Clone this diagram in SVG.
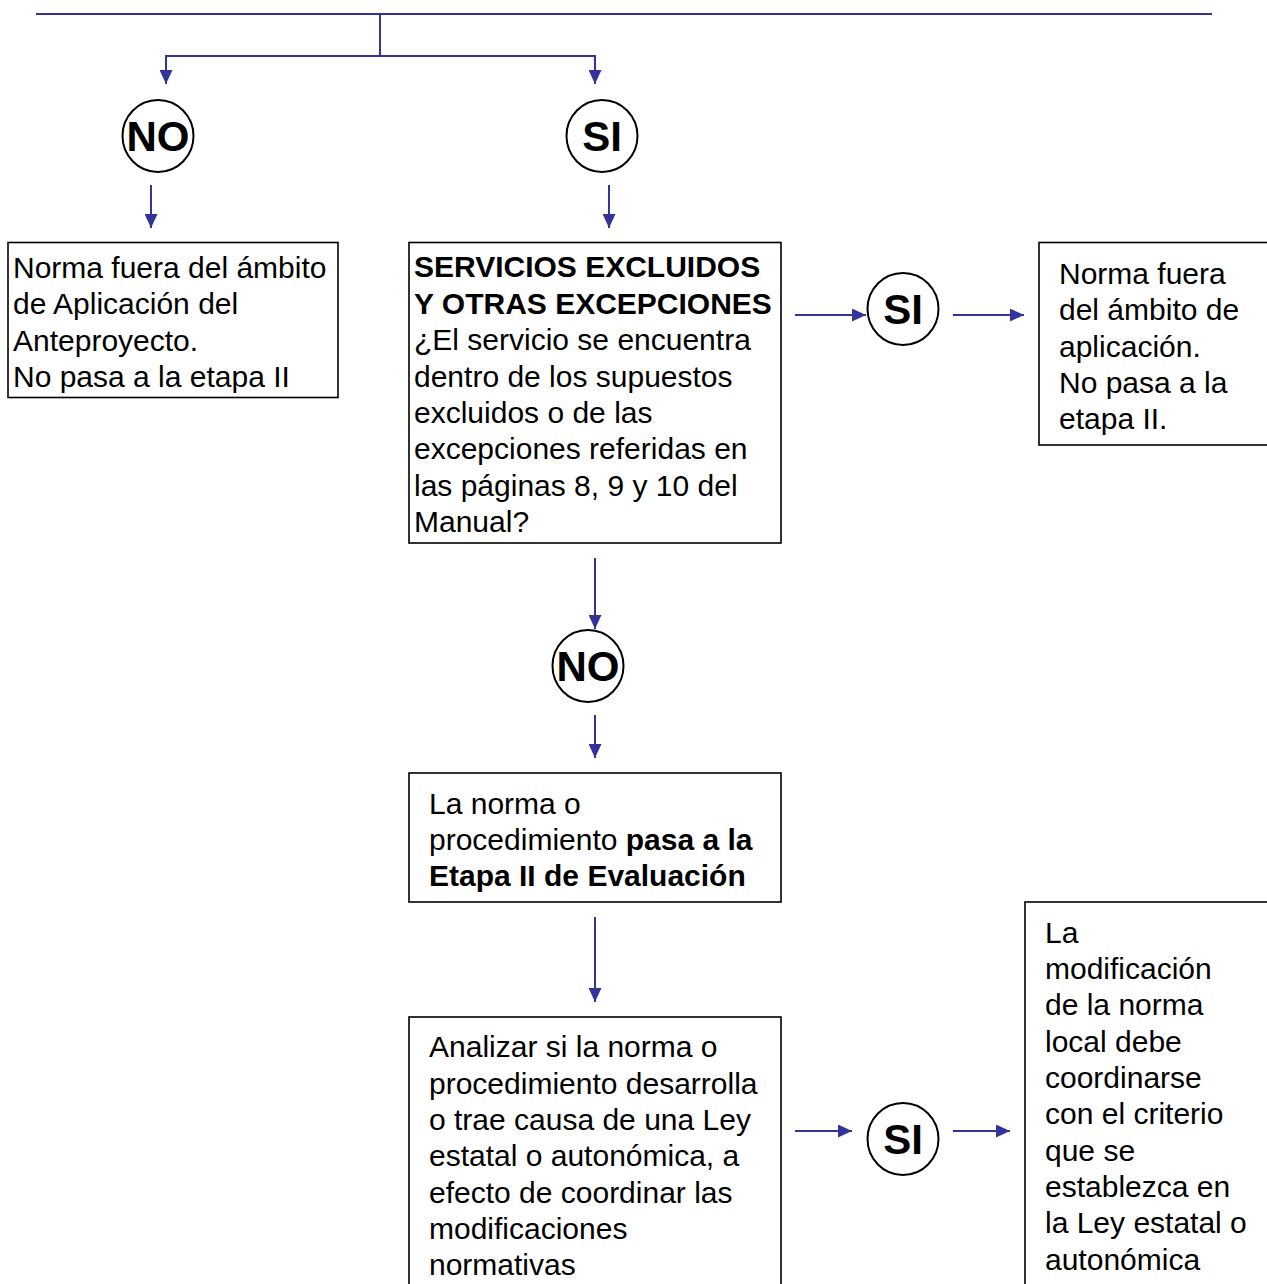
<svg xmlns="http://www.w3.org/2000/svg" width="1267" height="1284" viewBox="0 0 1267 1284">
<style>
.box{fill:#fff;stroke:#000;stroke-width:1.6}
.circ{fill:#fff;stroke:#000;stroke-width:2}
.t{font-family:"Liberation Sans",Arial,sans-serif;font-size:30px;fill:#000}
.b{font-weight:bold}
.ct{font-family:"Liberation Sans",Arial,sans-serif;font-size:42px;font-weight:bold;fill:#000;text-anchor:middle}
.c{fill:none;stroke:#333399;stroke-width:2}
</style>
<defs>
<marker id="ah" markerUnits="userSpaceOnUse" markerWidth="14" markerHeight="13" refX="14" refY="6.5" orient="auto">
<path d="M0,0 L14,6.5 L0,13 z" fill="#333399"/>
</marker>
</defs>
<rect width="1267" height="1284" fill="#fff"/>
<g id="connectors">
<line class="c" x1="36" y1="14" x2="1212" y2="14"/>
<line class="c" x1="380" y1="14" x2="380" y2="56"/>
<line class="c" x1="165" y1="56" x2="596" y2="56"/>
<line class="c" x1="166" y1="55" x2="166" y2="84" marker-end="url(#ah)"/>
<line class="c" x1="595" y1="55" x2="595" y2="84" marker-end="url(#ah)"/>
<line class="c" x1="151" y1="185" x2="151" y2="228" marker-end="url(#ah)"/>
<line class="c" x1="609" y1="185" x2="609" y2="228" marker-end="url(#ah)"/>
<line class="c" x1="795" y1="315" x2="866" y2="315" marker-end="url(#ah)"/>
<line class="c" x1="953" y1="315" x2="1024" y2="315" marker-end="url(#ah)"/>
<line class="c" x1="595" y1="558" x2="595" y2="629" marker-end="url(#ah)"/>
<line class="c" x1="595" y1="715" x2="595" y2="758" marker-end="url(#ah)"/>
<line class="c" x1="595" y1="917" x2="595" y2="1002" marker-end="url(#ah)"/>
<line class="c" x1="795" y1="1131" x2="852" y2="1131" marker-end="url(#ah)"/>
<line class="c" x1="953" y1="1131" x2="1010" y2="1131" marker-end="url(#ah)"/>
</g>
<g id="no1">
<ellipse class="circ" cx="158" cy="136" rx="35.5" ry="36"/>
<text class="ct" x="158" y="151">NO</text>
</g>
<g id="si1">
<ellipse class="circ" cx="602" cy="136" rx="35.5" ry="36"/>
<text class="ct" x="602" y="151">SI</text>
</g>
<g id="box-fuera1">
<rect class="box" x="8" y="242.5" width="330" height="155"/>
<text class="t" x="13" y="278">Norma fuera del ámbito</text>
<text class="t" x="13" y="314">de Aplicación del</text>
<text class="t" x="13" y="351">Anteproyecto.</text>
<text class="t" x="13" y="387">No pasa a la etapa II</text>
</g>
<g id="box-servicios">
<rect class="box" x="409" y="242.5" width="372" height="300.5"/>
<text class="t b" x="414" y="277">SERVICIOS EXCLUIDOS</text>
<text class="t b" x="414" y="314">Y OTRAS EXCEPCIONES</text>
<text class="t" x="414" y="350">¿El servicio se encuentra</text>
<text class="t" x="414" y="387">dentro de los supuestos</text>
<text class="t" x="414" y="423">excluidos o de las</text>
<text class="t" x="414" y="459">excepciones referidas en</text>
<text class="t" x="414" y="496">las páginas 8, 9 y 10 del</text>
<text class="t" x="414" y="532">Manual?</text>
</g>
<g id="si2">
<ellipse class="circ" cx="903" cy="309" rx="35.5" ry="36"/>
<text class="ct" x="903" y="324">SI</text>
</g>
<g id="box-fuera2">
<rect class="box" x="1039" y="242.5" width="240" height="202.5"/>
<text class="t" x="1059" y="284">Norma fuera</text>
<text class="t" x="1059" y="320">del ámbito de</text>
<text class="t" x="1059" y="357">aplicación.</text>
<text class="t" x="1059" y="393">No pasa a la</text>
<text class="t" x="1059" y="429">etapa II.</text>
</g>
<g id="no2">
<ellipse class="circ" cx="588" cy="666" rx="35.5" ry="36"/>
<text class="ct" x="588" y="681">NO</text>
</g>
<g id="box-etapa2">
<rect class="box" x="409" y="773" width="372" height="129"/>
<text class="t" x="429" y="814">La norma o</text>
<text class="t" x="429" y="850">procedimiento <tspan class="b">pasa a la</tspan></text>
<text class="t b" x="429" y="886">Etapa II de Evaluación</text>
</g>
<g id="box-analizar">
<rect class="box" x="409" y="1017" width="372" height="280"/>
<text class="t" x="429" y="1057">Analizar si la norma o</text>
<text class="t" x="429" y="1094">procedimiento desarrolla</text>
<text class="t" x="429" y="1130">o trae causa de una Ley</text>
<text class="t" x="429" y="1166">estatal o autonómica, a</text>
<text class="t" x="429" y="1203">efecto de coordinar las</text>
<text class="t" x="429" y="1239">modificaciones</text>
<text class="t" x="429" y="1275">normativas</text>
</g>
<g id="si3">
<ellipse class="circ" cx="903" cy="1139" rx="35.5" ry="36"/>
<text class="ct" x="903" y="1154">SI</text>
</g>
<g id="box-coordinar">
<rect class="box" x="1025" y="902" width="260" height="400"/>
<text class="t" x="1045" y="943">La</text>
<text class="t" x="1045" y="979">modificación</text>
<text class="t" x="1045" y="1015">de la norma</text>
<text class="t" x="1045" y="1052">local debe</text>
<text class="t" x="1045" y="1088">coordinarse</text>
<text class="t" x="1045" y="1124">con el criterio</text>
<text class="t" x="1045" y="1161">que se</text>
<text class="t" x="1045" y="1197">establezca en</text>
<text class="t" x="1045" y="1233">la Ley estatal o</text>
<text class="t" x="1045" y="1270">autonómica</text>
</g>
</svg>
